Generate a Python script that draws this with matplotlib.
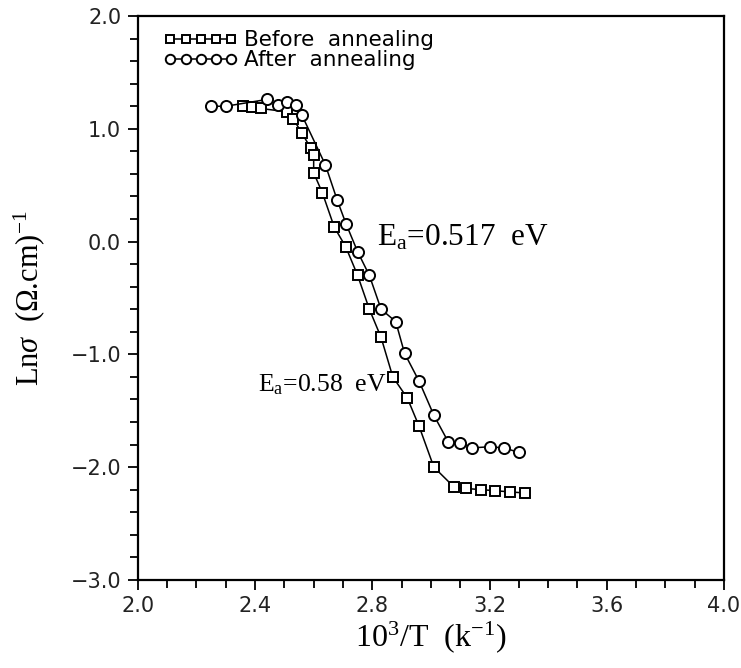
#!/usr/bin/env python3
"""Ln(sigma) vs 1000/T before and after annealing."""

import matplotlib
matplotlib.use("Agg")
import matplotlib.pyplot as plt
from matplotlib.ticker import MultipleLocator, FuncFormatter

# --- data ---
before_x = [2.36, 2.39, 2.42, 2.51, 2.53, 2.56, 2.59, 2.60, 2.60, 2.63, 2.67,
            2.71, 2.75, 2.79, 2.83, 2.87, 2.92, 2.96, 3.01, 3.08, 3.12, 3.17,
            3.22, 3.27, 3.32]
before_y = [1.20, 1.19, 1.18, 1.15, 1.09, 0.96, 0.83, 0.77, 0.61, 0.43, 0.13,
            -0.05, -0.30, -0.60, -0.85, -1.20, -1.39, -1.64, -2.00, -2.18, -2.19,
            -2.20, -2.21, -2.22, -2.23]

after_x = [2.25, 2.30, 2.44, 2.48, 2.51, 2.54, 2.56, 2.64, 2.68, 2.71, 2.75,
           2.79, 2.83, 2.88, 2.91, 2.96, 3.01, 3.06, 3.10, 3.14, 3.20, 3.25, 3.30]
after_y = [1.20, 1.20, 1.26, 1.21, 1.24, 1.21, 1.12, 0.68, 0.37, 0.16, -0.09,
           -0.30, -0.60, -0.71, -0.99, -1.24, -1.54, -1.78, -1.79, -1.83, -1.82,
           -1.83, -1.87]

labels = ["Before  annealing", "After  annealing"]
ann_texts = [r"E$_\mathrm{a}$=0.517  eV", r"E$_\mathrm{a}$=0.58  eV"]
ann_pos = [(2.815, 0.03), (2.41, -1.27)]
ann_size = [22.5, 18.5]

plt.rcParams["mathtext.fontset"] = "custom"
plt.rcParams["mathtext.rm"] = "Liberation Serif"
plt.rcParams["mathtext.it"] = "Liberation Serif:italic"

fig = plt.figure(figsize=(7.41, 6.68), dpi=100)
ax = fig.add_axes([0.186, 0.132, 0.791, 0.844])

ax.plot(before_x, before_y, color="black", linewidth=1.1, marker="s",
        markersize=6.5, markerfacecolor="white", markeredgewidth=1.4,
        markeredgecolor="black", label=labels[0])
ax.plot(after_x, after_y, color="black", linewidth=1.1, marker="o",
        markersize=8, markerfacecolor="white", markeredgewidth=1.4,
        markeredgecolor="black", label=labels[1])

ax.set_xlim(2.0, 4.0)
ax.set_ylim(-3.0, 2.0)
ax.xaxis.set_major_locator(MultipleLocator(0.4))
ax.xaxis.set_minor_locator(MultipleLocator(0.1))
ax.yaxis.set_major_locator(MultipleLocator(1.0))
ax.yaxis.set_minor_locator(MultipleLocator(0.2))
fmt = FuncFormatter(lambda v, _: f"{v:.1f}".replace("-", "\u2212"))
ax.xaxis.set_major_formatter(fmt)
ax.yaxis.set_major_formatter(fmt)
ax.tick_params(which="both", direction="out", top=False, right=False,
               width=1.3, labelsize=15)
ax.tick_params(which="major", length=7, pad=5)
ax.tick_params(which="minor", length=6)
for lab in ax.get_xticklabels() + ax.get_yticklabels():
    lab.set_family("DejaVu Sans")
    lab.set_color("#222222")
for sp in ax.spines.values():
    sp.set_linewidth(1.6)

ax.set_xlabel(r"10$^3$/T  (k$^{-1}$)", family="Liberation Serif",
              fontsize=23, labelpad=2)
ax.set_ylabel(r"Ln$\sigma$  ($\Omega$.cm)$^{-1}$", family="Liberation Serif",
              fontsize=22)
ax.yaxis.set_label_coords(-0.155, 0.5)

for txt, (tx, ty), fs in zip(ann_texts, ann_pos, ann_size):
    ax.text(tx, ty, txt, family="Liberation Serif", fontsize=fs,
            va="center", ha="left")

leg = ax.legend(loc="upper left", bbox_to_anchor=(0.03, 0.99), frameon=False,
                numpoints=5, handlelength=3.4, handletextpad=0.3,
                labelspacing=0.0, borderaxespad=0.0, markerscale=0.85,
                prop={"family": "DejaVu Sans", "size": 15.5})

fig.savefig("out.png", dpi=100)
